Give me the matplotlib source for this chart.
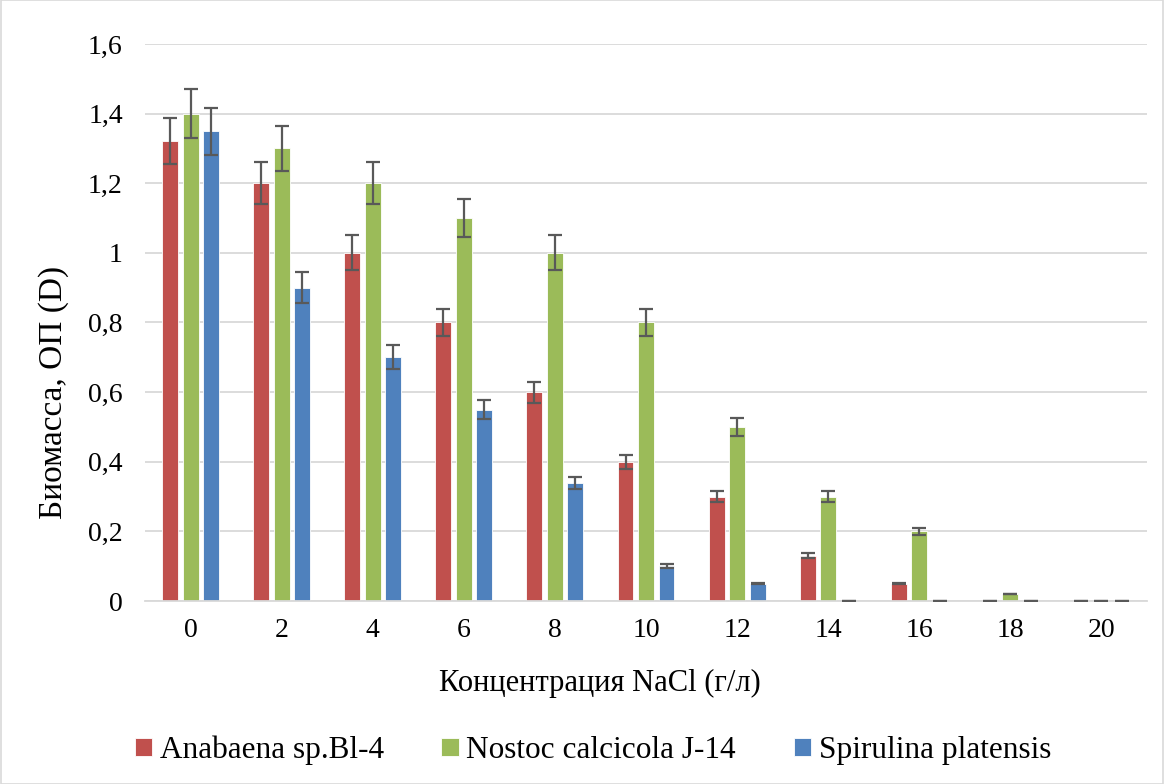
import numpy as np
import matplotlib.pyplot as plt
from matplotlib.patches import Rectangle

concentrations = ['0', '2', '4', '6', '8', '10', '12', '14', '16', '18', '20']

anabaena = [1.32, 1.2, 1.0, 0.8, 0.6, 0.4, 0.3, 0.13, 0.05, 0.0, 0.0]
nostoc = [1.4, 1.3, 1.2, 1.1, 1.0, 0.8, 0.5, 0.3, 0.2, 0.02, 0.0]
spirulina = [1.35, 0.9, 0.7, 0.55, 0.34, 0.1, 0.05, 0.0, 0.0, 0.0, 0.0]

anabaena_err = [0.066, 0.06, 0.05, 0.04, 0.03, 0.02, 0.015, 0.0065, 0.0025, 0.0, 0.0]
nostoc_err = [0.07, 0.065, 0.06, 0.055, 0.05, 0.04, 0.025, 0.015, 0.01, 0.001, 0.0]
spirulina_err = [0.0675, 0.045, 0.035, 0.0275, 0.017, 0.005, 0.0025, 0.0, 0.0, 0.0, 0.0]

series_names = ['Anabaena sp.Bl-4', 'Nostoc calcicola J-14', 'Spirulina platensis']
colors = ['#C0504D', '#9BBB59', '#4F81BD']

plt.rcParams['font.family'] = ['Liberation Serif', 'DejaVu Serif']

fig = plt.figure(figsize=(11.64, 7.84), dpi=100)
ax = fig.add_axes([0.1246, 0.2334, 0.8608, 0.7105])

x = np.arange(len(concentrations))
width = 0.175
step = 0.225
values = [anabaena, nostoc, spirulina]
errors = [anabaena_err, nostoc_err, spirulina_err]

for i, (vals, errs) in enumerate(zip(values, errors)):
    pos = x + (i - 1) * step
    ax.bar(pos, vals, width, color=colors[i], edgecolor='white', linewidth=0.6,
           label=series_names[i], zorder=2)
    ax.errorbar(pos, vals, yerr=errs, fmt='none', ecolor='#595959',
                elinewidth=1.6, capsize=4.7, capthick=1.6, zorder=3)

ax.set_ylim(0, 1.6)
ax.set_xlim(-0.5, 10.5)
yticks = np.arange(0, 1.61, 0.2)
ax.set_yticks(yticks)
ax.set_yticklabels([f'{t:g}'.replace('.', ',') for t in yticks])
ax.set_xticks(x)
ax.set_xticklabels(concentrations)
ax.tick_params(axis='both', length=0, labelsize=20)
ax.tick_params(axis='y', pad=16)
ax.tick_params(axis='x', pad=12)
ax.grid(axis='y', color='#D9D9D9', linewidth=1.3, zorder=0)
for side in ['top', 'right', 'left']:
    ax.spines[side].set_visible(False)
ax.spines['bottom'].set_color('#D9D9D9')
ax.spines['bottom'].set_linewidth(1.3)

ax.set_xlabel('Концентрация NaCl (г/л)', fontsize=22, va='top')
ax.xaxis.set_label_coords(0.454, -0.122)
ax.set_ylabel('Биомасса, ОП (D)', fontsize=24)
ax.yaxis.set_label_coords(-0.076, 0.375)

ax.legend(loc='center', bbox_to_anchor=(0.447, -0.268), ncol=3, frameon=False,
          fontsize=22.5, handlelength=0.55, handleheight=0.55, handletextpad=0.25,
          columnspacing=1.85)

fig.patches.append(Rectangle((0.0005, 0.0005), 0.999, 0.999, transform=fig.transFigure,
                             fill=False, edgecolor='#D9D9D9', linewidth=1.2))

fig.savefig('out.png', dpi=100)
